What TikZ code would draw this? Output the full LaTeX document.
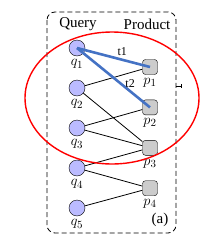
\documentclass[tikz,border=0pt]{standalone}
\usepackage{fontspec}
\setmainfont{Liberation Serif}
\usetikzlibrary{positioning}
\definecolor{qfill}{RGB}{187,187,255}
\definecolor{hotblue}{RGB}{68,114,196}

\begin{document}
\begin{tikzpicture}[x=1pt, y=-1pt, font=\fontsize{15}{17}\selectfont,
  qnode/.style={circle, draw, thin, fill=qfill, minimum size=16pt, inner sep=0pt, label distance=0pt},
  pnode/.style={rectangle, rounded corners=3pt, draw, thin, fill=gray!40, minimum size=15pt, inner sep=0pt, label distance=-1pt},
  link/.style={line width=0.8pt},
  hotlink/.style={line width=2.6pt, hotblue},
  tlabel/.style={black, font=\fontsize{12}{14}\selectfont},
  node distance=23.6pt]
  \useasboundingbox (0,0) rectangle (224,244);
  % Frame
  \draw[dashed, line width=0.8pt, dash pattern=on 5pt off 3pt, rounded corners=8pt] (47,12) rectangle (176,233);
  \draw[line width=0.8pt] (176,86) -- (181,86) (181,84) -- (181,88);
  \node (query) at (78,24) {Query};
  \node (product) at (147,24) {Product};
  % Queries
  \node[qnode, label=below:{$q_1$}] (q1) at (77,48) {};
  \node[qnode, below=of q1, label=below:{$q_2$}] (q2) {};
  \node[qnode, below=of q2, label=below:{$q_3$}] (q3) {};
  \node[qnode, below=of q3, label=below:{$q_4$}] (q4) {};
  \node[qnode, below=of q4, label=below:{$q_5$}] (q5) {};
  % Products
  \node[pnode, label=below:{$p_1$}] (p1) at (150,67) {};
  \node[pnode, below=25pt of p1, label=below:{$p_2$}] (p2) {};
  \node[pnode, below=25pt of p2, label=below:{$p_3$}] (p3) {};
  \node[pnode, below=25pt of p3, label=below:{$p_4$}] (p4) {};
  % Clicks
  \draw[link] (q2) -- (p1);
  \draw[link] (q2) -- (p3);
  \draw[link] (q3) -- (p2);
  \draw[link] (q3) -- (p3);
  \draw[link] (q4) -- (p3);
  \draw[link] (q4) -- (p4);
  \draw[link] (q5) -- (p4);
  \draw[hotlink] (q1.center) -- node[pos=0.62, above, tlabel] (t1) {t1} (p1.center);
  \draw[hotlink] (q1.center) -- node[pos=0.6, right, tlabel] (t2) {t2} (p2.center);
  % Neighbourhood
  \draw[red, line width=1.4pt] (112,98) ellipse [x radius=87, y radius=66];
  \node (tag) at (160,220) {(a)};
\end{tikzpicture}
\end{document}
